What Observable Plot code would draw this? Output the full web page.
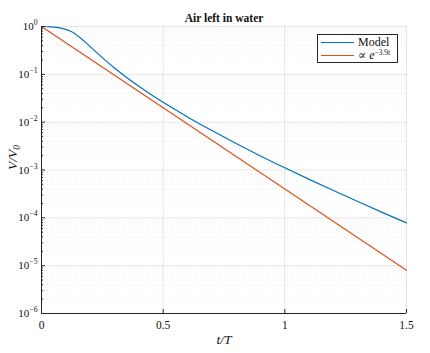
<!DOCTYPE html>
<html>
<head>
<meta charset="utf-8">
<script src="https://cdn.jsdelivr.net/npm/d3@7"></script>
<script src="https://cdn.jsdelivr.net/npm/@observablehq/plot@0.6"></script>
<style>
  body { margin: 0; background: #fff; }
  #wrap { position: relative; width: 430px; height: 353px; font-family: "Liberation Serif", "DejaVu Serif", serif; }
  #wrap svg, #wrap svg text { font-family: "Liberation Serif", "DejaVu Serif", serif !important; }
  #legend { position: absolute; left: 317px; top: 34px; width: 79px; height: 27px; border: 1px solid #262626; background: #fff; font-size: 12px; color: #111; font-family: "Liberation Serif", "DejaVu Serif", serif; }
  .row { position: absolute; left: 3px; height: 13px; line-height: 13px; display: flex; align-items: center; white-space: nowrap; }
  .sw { width: 33px; height: 1.3px; margin-right: 4px; }
  sup { font-size: 7.5px; vertical-align: 4px; line-height: 0; }
</style>
</head>
<body>
<div id="wrap"></div>
<script>
// Data
const modelT = [0, 0.04, 0.08, 0.12, 0.16, 0.2, 0.25, 0.3, 0.35, 0.4, 0.45, 0.5, 0.6, 0.7, 0.8, 0.9, 1.0, 1.1, 1.2, 1.3, 1.4, 1.5];
const modelV = [1, 0.982, 0.923, 0.794, 0.575, 0.380, 0.224, 0.136, 0.0861, 0.0562, 0.0378, 0.0260, 0.01288, 0.00668, 0.00359, 0.00197, 0.00111, 0.000638, 0.000372, 0.000219, 0.000130, 7.85e-5];
const expT = [0, 0.5, 1, 1.5];
const expV = [1, 0.02, 4.0e-4, 8.0e-6];
const xTicks = [0, 0.5, 1, 1.5];
const yTicks = [1e-6, 1e-5, 1e-4, 1e-3, 1e-2, 1e-1, 1];
const seriesNames = ["Model", "∝ e^{-3.9t}"];
const colors = ["#0072BD", "#D95319"];

const model = modelT.map((t, i) => ({t, v: modelV[i]}));
const expo = expT.map((t, i) => ({t, v: expV[i]}));
const minor = [];
for (let e = -6; e < 0; e++) for (let m = 2; m <= 9; m++) minor.push(m * Math.pow(10, e));

const font = "'Liberation Serif', 'DejaVu Serif', serif";
const plot = Plot.plot({
  width: 430, height: 353,
  marginLeft: 41, marginRight: 24, marginTop: 26, marginBottom: 40,
  style: {fontFamily: font, fontSize: "11px", color: "#262626", background: "#fff"},
  x: {domain: [0, 1.5]},
  y: {type: "log", domain: [1e-6, 1]},
  marks: [
    Plot.ruleY(minor, {stroke: "#000", strokeOpacity: 0.07, strokeDasharray: "1,2"}),
    Plot.ruleY(yTicks, {stroke: "#000", strokeOpacity: 0.1}),
    Plot.ruleX(xTicks, {stroke: "#000", strokeOpacity: 0.1}),
    Plot.line(expo, {x: "t", y: "v", stroke: colors[1], strokeWidth: 1.2}),
    Plot.line(model, {x: "t", y: "v", stroke: colors[0], strokeWidth: 1.2, curve: "monotone-x"}),
    Plot.ruleX([0], {stroke: "#262626", strokeWidth: 1}),
    Plot.ruleY([1e-6], {stroke: "#262626", strokeWidth: 1}),
    Plot.axisY({ticks: yTicks, tickSize: 4, dx: 4, text: null, label: null, stroke: "#262626"}),
    Plot.axisY({ticks: minor, tickSize: 2, dx: 2, text: null, label: null, stroke: "#262626"}),
    Plot.axisY({ticks: yTicks, tickSize: 0, tickPadding: 4, label: null, fontSize: 11, fill: "#111",
      tickFormat: d => "10^{" + (Math.round(Math.log10(d)) === 0 ? "0" : "−" + (-Math.round(Math.log10(d)))) + "}"}),
    Plot.axisX({ticks: xTicks, tickSize: 4, dy: -4, text: null, label: null, stroke: "#262626"}),
    Plot.axisX({ticks: xTicks, tickSize: 0, tickPadding: 7, label: null, fontSize: 11.5, fill: "#111", tickFormat: d => String(d)}),
    Plot.text(["Air left in water"], {frameAnchor: "top", dy: -13, fontSize: 11.5, fontWeight: "bold", fill: "#111"}),
    Plot.text(["t/T"], {frameAnchor: "bottom", dy: 30, fontSize: 13.5, fontStyle: "italic", fill: "#111"}),
    Plot.text(["V/V_{0}"], {frameAnchor: "left", dx: -29, rotate: -90, fontSize: 13.5, fontStyle: "italic", fill: "#111"})
  ]
});

// Render ^{..} and _{..} as real super/subscript tspans
function richify(svg) {
  svg.querySelectorAll("text").forEach(t => {
    const s = t.textContent;
    if (!/[\^_]\{/.test(s)) return;
    t.textContent = "";
    const re = /([\^_])\{([^}]*)\}|([^\^_]+)/g;
    let m, shift = 0;
    while ((m = re.exec(s))) {
      const ts = document.createElementNS("http://www.w3.org/2000/svg", "tspan");
      if (m[1]) {
        const target = m[1] === "^" ? -5 : 3;
        ts.setAttribute("dy", target - shift);
        ts.setAttribute("font-size", "0.7em");
        shift = target;
        ts.textContent = m[2];
      } else {
        if (shift) ts.setAttribute("dy", -shift);
        shift = 0;
        ts.textContent = m[3];
      }
      t.appendChild(ts);
    }
  });
}
richify(plot);
plot.querySelectorAll("text, g").forEach(el => el.style.fontFamily = font);
plot.style.fontFamily = font;

const wrap = document.getElementById("wrap");
wrap.appendChild(plot);

const legend = document.createElement("div");
legend.id = "legend";
legend.innerHTML =
  `<div class="row" style="top:1px"><div class="sw" style="background:${colors[0]}"></div><span>${seriesNames[0]}</span></div>` +
  `<div class="row" style="top:14px"><div class="sw" style="background:${colors[1]}"></div><span>∝ <i>e</i><sup>−3.9<i>t</i></sup></span></div>`;
wrap.appendChild(legend);
</script>
</body>
</html>
